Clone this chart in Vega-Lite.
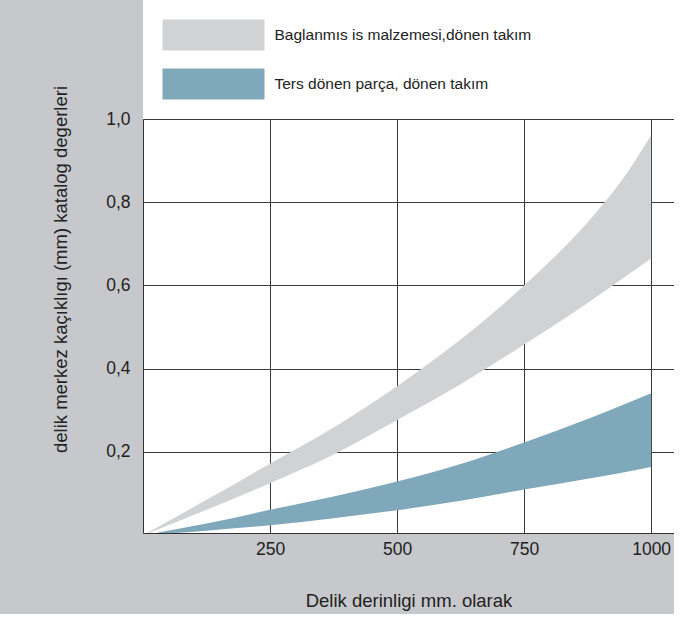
{
  "$schema": "https://vega.github.io/schema/vega-lite/v6.json",
  "width": 531,
  "height": 414,
  "autosize": {"type": "none"},
  "padding": {"left": 143, "top": 119, "right": 0, "bottom": 81},
  "background": "#c7c8cb",
  "config": {
    "font": "Liberation Sans",
    "view": {"fill": "white", "stroke": "#333333", "strokeWidth": 1},
    "axis": {"zindex": 1, "gridColor": "#3a3a3a", "gridWidth": 1, "gridOpacity": 1, "ticks": false, "domain": false, "labelColor": "#222222", "titleColor": "#222222", "titleFontWeight": "normal", "labelFont": "Liberation Sans", "titleFont": "Liberation Sans"}
  },
  "data": {
    "values": [
      {"series": "Baglanmıs is malzemesi,dönen takım", "x": 0, "lo": 0, "hi": 0},
      {"series": "Baglanmıs is malzemesi,dönen takım", "x": 125, "lo": 0.061, "hi": 0.085},
      {"series": "Baglanmıs is malzemesi,dönen takım", "x": 250, "lo": 0.125, "hi": 0.172},
      {"series": "Baglanmıs is malzemesi,dönen takım", "x": 375, "lo": 0.194, "hi": 0.259},
      {"series": "Baglanmıs is malzemesi,dönen takım", "x": 500, "lo": 0.277, "hi": 0.358},
      {"series": "Baglanmıs is malzemesi,dönen takım", "x": 625, "lo": 0.363, "hi": 0.470},
      {"series": "Baglanmıs is malzemesi,dönen takım", "x": 750, "lo": 0.458, "hi": 0.600},
      {"series": "Baglanmıs is malzemesi,dönen takım", "x": 875, "lo": 0.558, "hi": 0.752},
      {"series": "Baglanmıs is malzemesi,dönen takım", "x": 950, "lo": 0.622, "hi": 0.866},
      {"series": "Baglanmıs is malzemesi,dönen takım", "x": 1000, "lo": 0.665, "hi": 0.961},
      {"series": "Ters dönen parça, dönen takım", "x": 0, "lo": 0, "hi": 0},
      {"series": "Ters dönen parça, dönen takım", "x": 125, "lo": 0.011, "hi": 0.028},
      {"series": "Ters dönen parça, dönen takım", "x": 250, "lo": 0.024, "hi": 0.061},
      {"series": "Ters dönen parça, dönen takım", "x": 375, "lo": 0.041, "hi": 0.093},
      {"series": "Ters dönen parça, dönen takım", "x": 500, "lo": 0.060, "hi": 0.129},
      {"series": "Ters dönen parça, dönen takım", "x": 625, "lo": 0.083, "hi": 0.171},
      {"series": "Ters dönen parça, dönen takım", "x": 750, "lo": 0.110, "hi": 0.223},
      {"series": "Ters dönen parça, dönen takım", "x": 875, "lo": 0.136, "hi": 0.279},
      {"series": "Ters dönen parça, dönen takım", "x": 950, "lo": 0.152, "hi": 0.316},
      {"series": "Ters dönen parça, dönen takım", "x": 1000, "lo": 0.164, "hi": 0.341}
    ]
  },
  "mark": {"type": "area", "interpolate": "monotone", "opacity": 1, "clip": true},
  "encoding": {
    "x": {
      "field": "x", "type": "quantitative",
      "scale": {"domain": [0, 1045], "nice": false, "zero": false},
      "axis": {
        "values": [250, 500, 750, 1000],
        "format": "d",
        "title": "Delik derinligi mm. olarak",
        "labelFontSize": 17.5, "labelPadding": 7,
        "titleFontSize": 18.5, "titleBaseline": "middle", "titleY": 67, "titleX": 265.5
      }
    },
    "y": {
      "field": "lo", "type": "quantitative",
      "scale": {"domain": [0.0054, 1], "nice": false, "zero": false},
      "axis": {
        "values": [0.2, 0.4, 0.6, 0.8, 1.0],
        "labelExpr": "replace(format(datum.value, '.1f'), '.', ',')",
        "title": "delik merkez kaçıklıgı (mm) katalog degerleri",
        "labelFontSize": 17.5, "labelPadding": 13,
        "titleFontSize": 18.5, "titleBaseline": "middle", "titleAlign": "center", "titleAngle": -90, "titleX": -83, "titleY": 150
      }
    },
    "y2": {"field": "hi"},
    "color": {
      "field": "series", "type": "nominal",
      "scale": {"domain": ["Baglanmıs is malzemesi,dönen takım", "Ters dönen parça, dönen takım"], "range": ["#d1d2d4", "#7fa8ba"]},
      "legend": {
        "title": " ",
        "titleOrient": "right",
        "titlePadding": 200,
        "orient": "none",
        "legendX": 0,
        "legendY": -119,
        "fillColor": "white",
        "padding": 19.5,
        "symbolType": "M-1,-1H5.58V1H-1Z",
        "symbolSize": 961,
        "symbolStrokeWidth": 0,
        "symbolOpacity": 1,
        "labelFontSize": 15.5,
        "labelLimit": 0,
        "labelColor": "#222222",
        "labelOffset": 81,
        "rowPadding": 18
      }
    }
  }
}
